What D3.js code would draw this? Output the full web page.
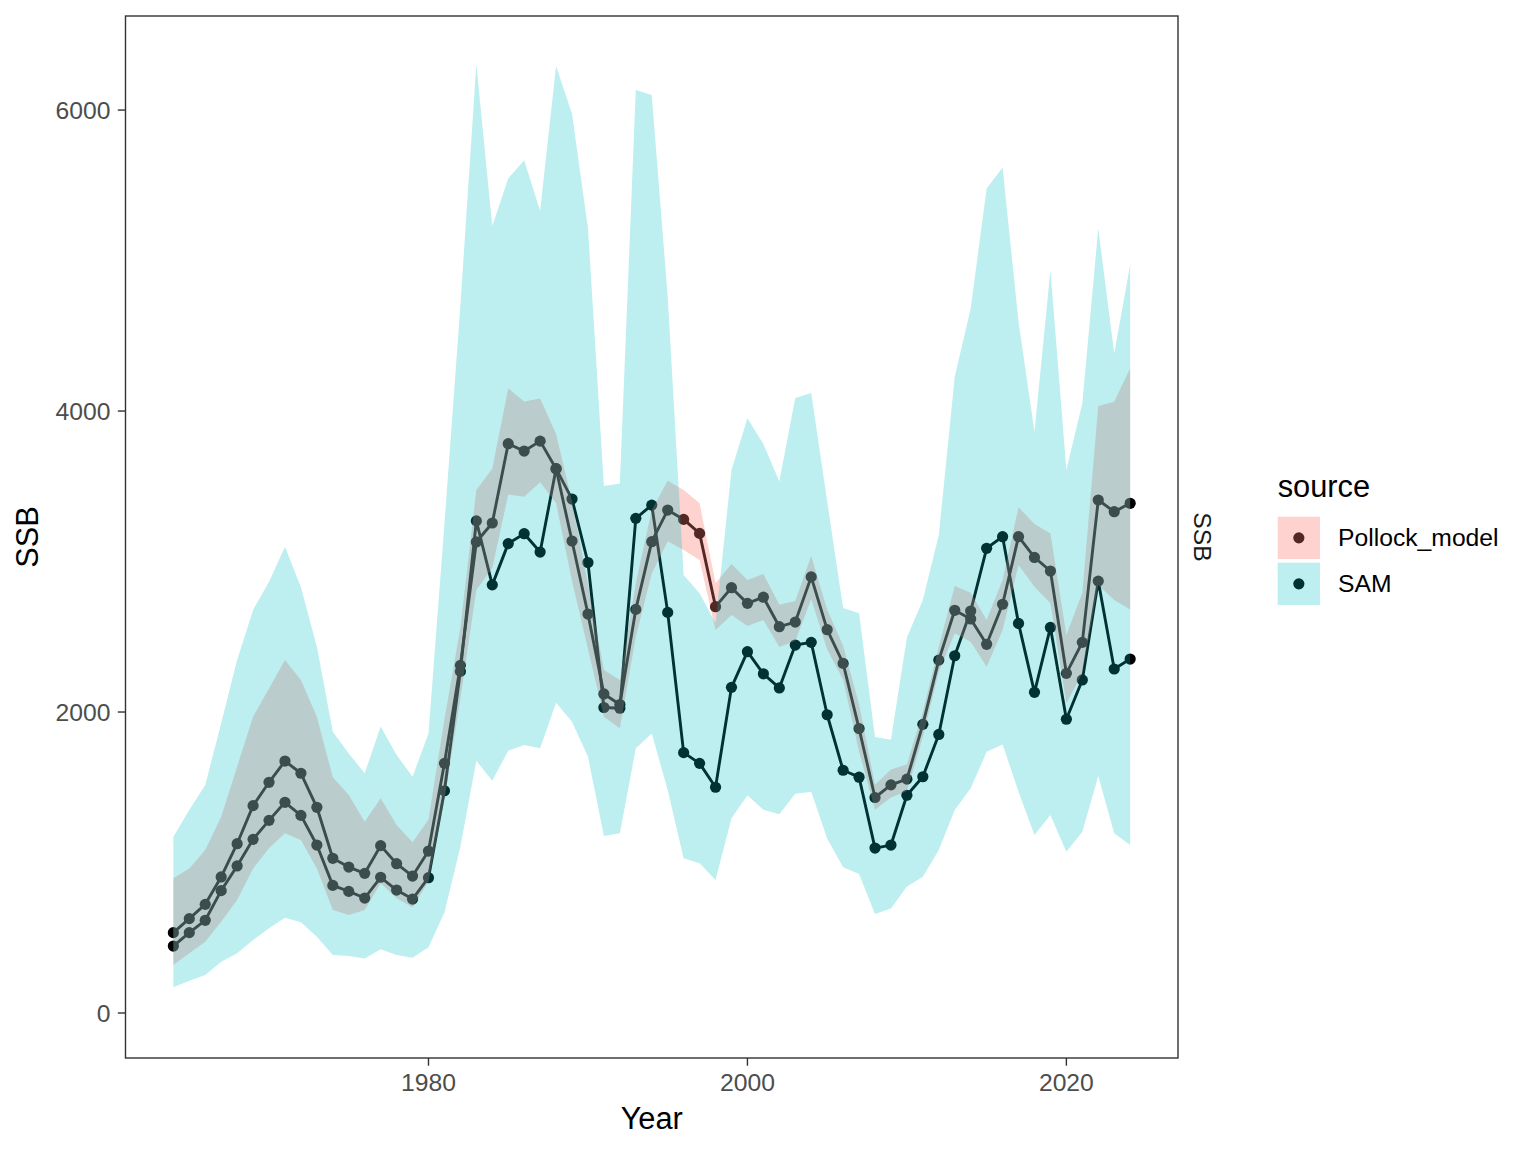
<!DOCTYPE html>
<html>
<head>
<meta charset="utf-8">
<script src="https://cdn.jsdelivr.net/npm/d3@7"></script>
<style>
body{margin:0;background:#fff;}
svg{display:block;}
</style>
</head>
<body>
<svg id="chart" width="1536" height="1152"></svg>
<script>
const years = d3.range(1964, 2025);
const sources = ["Pollock_model", "SAM"];
const xTicks = [1980, 2000, 2020];
const yTicks = [0, 2000, 4000, 6000];

const pollockEst = [534,627,722,904,1125,1378,1533,1674,1593,1367,1028,970,928,1112,992,910,1076,1659,2310,3130,
3256,3783,3734,3800,3617,3136,2651,2120,2050,2682,3132,3342,3280,3187,2700,2826,2722,2763,2567,2598,
2898,2547,2323,1890,1432,1516,1554,1918,2345,2676,2618,2450,2716,3165,3027,2937,2257,2463,3409,3331,3387];
const pollockLow = [319,397,474,607,751,961,1094,1194,1150,961,684,651,684,862,762,702,873,1420,2090,2811,
2957,3445,3430,3526,3389,2870,2420,1969,1892,2500,2921,3134,3076,3010,2545,2645,2572,2611,2432,2472,
2751,2415,2216,1738,1350,1432,1475,1836,2268,2523,2467,2301,2545,2977,2833,2722,2058,2257,2844,2744,2682];
const pollockHigh = [895,961,1083,1304,1637,1969,2157,2345,2213,1969,1566,1449,1271,1427,1249,1134,1286,1950,2560,3475,
3617,4150,4063,4084,3847,3400,2850,2279,2213,2855,3342,3537,3475,3387,2855,2983,2877,2917,2712,2738,
3036,2679,2440,2050,1516,1618,1652,2000,2434,2837,2793,2611,2877,3360,3249,3187,2512,2791,4033,4062,4284];

const samEst = [445,534,616,813,977,1154,1280,1400,1313,1116,848,808,764,902,817,757,899,1477,2270,3270,
2845,3119,3185,3063,3617,3415,2993,2030,2025,3287,3375,2662,1730,1659,1500,2164,2401,2254,2160,2445,
2463,1982,1613,1567,1096,1116,1447,1570,1851,2374,2671,3088,3165,2589,2131,2562,1952,2213,2870,2286,2352];
const samLow = [171,215,252,341,397,485,563,633,603,507,385,379,363,423,385,367,437,668,1105,1676,
1543,1743,1781,1759,2062,1936,1703,1176,1194,1759,1858,1482,1028,995,884,1294,1447,1350,1320,1457,
1470,1159,969,923,658,694,840,906,1083,1349,1493,1736,1785,1471,1183,1316,1072,1205,1575,1194,1116];
const samHigh = [1172,1349,1515,1925,2345,2678,2866,3099,2829,2434,1869,1725,1593,1903,1714,1570,1858,3250,4700,6306,
5229,5545,5666,5329,6292,5976,5214,3502,3519,6133,6100,4760,2910,2789,2590,3608,3952,3781,3532,4087,
4120,3400,2692,2656,1834,1816,2496,2744,3176,4228,4682,5479,5619,4593,3862,4935,3608,4051,5214,4383,4972];

const series = [
  {name: sources[0], est: pollockEst, low: pollockLow, high: pollockHigh, fill: "#F8766D", alpha: 0.33},
  {name: sources[1], est: samEst, low: samLow, high: samHigh, fill: "#00BFC4", alpha: 0.26}
];

const svg = d3.select("#chart");
const P = {left: 125.5, right: 1178, top: 16, bottom: 1058};
const x = d3.scaleLinear().domain([1961, 2027]).range([P.left, P.right]);
const y = d3.scaleLinear().domain([-299, 6625]).range([P.bottom, P.top]);
const FONT = "'Liberation Sans', Arial, Helvetica, sans-serif";

svg.append("rect").attr("x",0).attr("y",0).attr("width",1536).attr("height",1152).attr("fill","#fff");

svg.append("defs").append("clipPath").attr("id","clip")
  .append("rect").attr("x",P.left).attr("y",P.top).attr("width",P.right-P.left).attr("height",P.bottom-P.top);
const plot = svg.append("g").attr("clip-path","url(#clip)");

const line = d3.line().x((d,i)=>x(years[i])).y(d=>y(d));
const area = d3.area().x((d,i)=>x(years[i])).y0(d=>y(d[0])).y1(d=>y(d[1]));

series.forEach(s=>{
  plot.append("path").datum(s.est).attr("d", line)
    .attr("fill","none").attr("stroke","#000").attr("stroke-width",2.9).attr("stroke-linejoin","round");
});
series.forEach(s=>{
  plot.append("g").selectAll("circle").data(s.est).join("circle")
    .attr("cx",(d,i)=>x(years[i])).attr("cy",d=>y(d)).attr("r",5.6).attr("fill","#000");
});
series.forEach(s=>{
  plot.append("path").datum(s.low.map((l,i)=>[l, s.high[i]])).attr("d", area)
    .attr("fill", s.fill).attr("fill-opacity", s.alpha).attr("stroke","none");
});

// panel border
svg.append("rect").attr("x",P.left).attr("y",P.top).attr("width",P.right-P.left).attr("height",P.bottom-P.top)
  .attr("fill","none").attr("stroke","#333333").attr("stroke-width",1.4);

// x axis
const gx = svg.append("g");
xTicks.forEach(t=>{
  gx.append("line").attr("x1",x(t)).attr("x2",x(t)).attr("y1",P.bottom).attr("y2",P.bottom+7.7)
    .attr("stroke","#333333").attr("stroke-width",1.4);
  gx.append("text").attr("x",x(t)).attr("y",1091).attr("text-anchor","middle")
    .attr("font-family",FONT).attr("font-size",24.7).attr("fill","#4D4D4D").text(t);
});
// y axis
const gy = svg.append("g");
yTicks.forEach(t=>{
  gy.append("line").attr("x1",P.left-7.7).attr("x2",P.left).attr("y1",y(t)).attr("y2",y(t))
    .attr("stroke","#333333").attr("stroke-width",1.4);
  gy.append("text").attr("x",110.5).attr("y",y(t)+8.8).attr("text-anchor","end")
    .attr("font-family",FONT).attr("font-size",24.7).attr("fill","#4D4D4D").text(t);
});

// axis titles
svg.append("text").attr("x",(P.left+P.right)/2).attr("y",1129).attr("text-anchor","middle")
  .attr("font-family",FONT).attr("font-size",30.8).attr("fill","#000").text("Year");
svg.append("text").attr("transform",`translate(38,${(P.top+P.bottom)/2}) rotate(-90)`).attr("text-anchor","middle")
  .attr("font-family",FONT).attr("font-size",30.8).attr("fill","#000").text("SSB");

// strip label
svg.append("text").attr("transform",`translate(1194,${(P.top+P.bottom)/2}) rotate(90)`).attr("text-anchor","middle")
  .attr("font-family",FONT).attr("font-size",24.7).attr("fill","#1A1A1A").text("SSB");

// legend
const lg = svg.append("g");
lg.append("text").attr("x",1277.7).attr("y",497).attr("font-family",FONT).attr("font-size",30.8)
  .attr("fill","#000").text("source");
series.forEach((s,i)=>{
  const ky = 516.7 + i*46;
  lg.append("rect").attr("x",1277.7).attr("y",ky).attr("width",42.3).attr("height",42.3).attr("fill","#fff");
  lg.append("circle").attr("cx",1277.7+21.15).attr("cy",ky+21.15).attr("r",5.6).attr("fill","#000");
  lg.append("rect").attr("x",1277.7).attr("y",ky).attr("width",42.3).attr("height",42.3)
    .attr("fill",s.fill).attr("fill-opacity",s.alpha);
  lg.append("text").attr("x",1338).attr("y",ky+21.15+8.6).attr("font-family",FONT).attr("font-size",24.7)
    .attr("fill","#000").text(s.name);
});
</script>
</body>
</html>
